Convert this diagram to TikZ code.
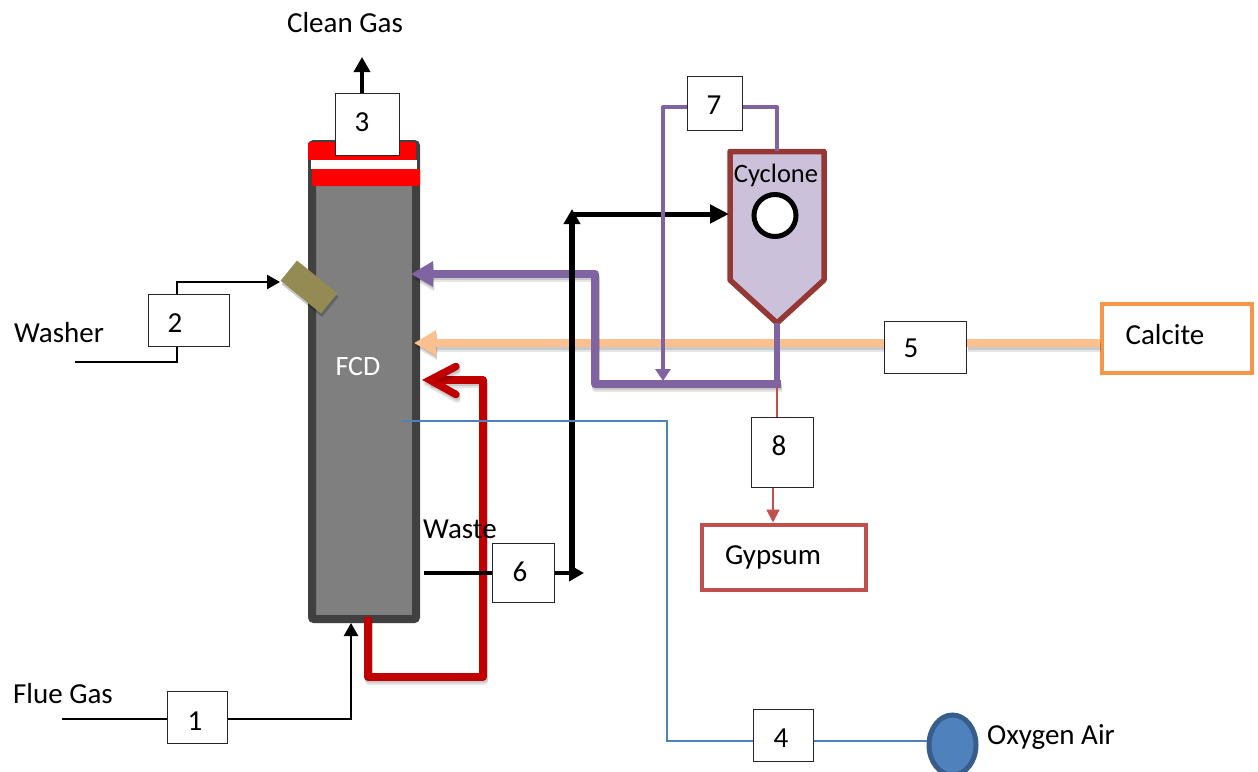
\documentclass[tikz,border=0pt]{standalone}
\usepackage{fontspec}
\setmainfont{Carlito}
\usetikzlibrary{arrows.meta,shadows,positioning,calc,shapes.geometric}
\definecolor{colborder}{HTML}{404040}
\definecolor{colgray}{HTML}{7F7F7F}
\definecolor{cololive}{HTML}{948A54}
\definecolor{colpurple}{HTML}{8064A2}
\definecolor{colorange}{HTML}{FAC090}
\definecolor{coldred}{HTML}{C00000}
\definecolor{colcyc}{HTML}{953735}
\definecolor{colcycf}{HTML}{CCC1DA}
\definecolor{colrose}{HTML}{C0504D}
\definecolor{colcalc}{HTML}{F79646}
\definecolor{colblue}{HTML}{4F81BD}
\definecolor{colblued}{HTML}{385D8A}
\newcommand{\softpath}[2]{%
  \draw[#1,draw=black,opacity=.10,transform canvas={xshift=1pt,yshift=-4.5pt}] #2;
  \draw[#1,draw=black,opacity=.12,transform canvas={xshift=1pt,yshift=-2.5pt}] #2;
  \draw[#1] #2;}
\tikzset{
  x=1pt,y=-1pt,
  softshadow/.style={drop shadow={opacity=.25,shadow xshift=1pt,shadow yshift=-4pt}},
  numbox/.style={draw=black!85,line width=1pt,fill=white,inner sep=0pt,anchor=north west},
  txt/.style={font=\fontsize{29}{32}\selectfont,inner sep=0pt,text=black},
  num/.style={font=\fontsize{29}{32}\selectfont,inner sep=0pt,text=black},
  blackthin/.style={draw=black,line width=2.5pt,-{Triangle[length=13pt,width=14pt]}},
  blackmid/.style={draw=black,line width=3.5pt,-{Triangle[length=15pt,width=16pt]}},
  plainblack/.style={draw=black,line width=2.5pt},
  purplethick/.style={draw=colpurple,line width=7.5pt,line join=round},
  purplethin/.style={draw=colpurple,line width=4pt,line join=round},
  orangeline/.style={draw=colorange,line width=8pt},
  redthick/.style={draw=coldred,line width=7.5pt,line join=round},
  rosethin/.style={draw=colrose,line width=2pt},
  bluethin/.style={draw=colblue,line width=1.7pt,line join=miter},
}
\begin{document}
\begin{tikzpicture}
\clip (0,0) rectangle (1258,771);
% column
\node[draw=colborder,line width=8pt,fill=colgray,rounded corners=2pt,minimum width=104pt,minimum height=475pt,inner sep=0pt,softshadow] (column) at (364,381.5) {};
\node[fill=red,rounded corners=2pt,minimum width=108pt,minimum height=18pt,inner sep=0pt] (redtop) at (362,151) {};
\node[fill=white,minimum width=106pt,minimum height=9pt,inner sep=0pt] (whitebar) at (364,164.5) {};
\node[fill=red,rounded corners=2pt,minimum width=108pt,minimum height=17pt,inner sep=0pt] (redlow) at (366,177.5) {};
\node[fill=black,opacity=.22,minimum width=52pt,minimum height=26pt,inner sep=0pt,rotate=-39] (platesh) at (310,290.5) {};
\node[fill=cololive,minimum width=52pt,minimum height=26pt,inner sep=0pt,rotate=-39] (washerplate) at (309,287) {};
\node[text=white,font=\fontsize{28}{30}\selectfont,inner sep=0pt] (fcd) at (358,367) {FCD};
% cyclone
\coordinate (cyclonetop) at (777,151);
\draw[draw=colcyc,fill=colcycf,line width=5.5pt,line join=round] (730,151.5) -- (824,151.5) -- (824,280) -- (777,323) -- (730,280) -- cycle;
\coordinate (cyclonetip) at (777,323);
\coordinate (cycloneleft) at (729,214);
\node[txt,font=\fontsize{26.5}{30}\selectfont] (cyclonetxt) at (776,175) {Cyclone};
\node[circle,draw=black,line width=5pt,fill=white,minimum size=42pt,inner sep=0pt] (eye) at (775,215.5) {};
% end boxes
\node[draw=colcalc,line width=4pt,fill=white,minimum width=150pt,minimum height=69pt,inner sep=0pt] (calcite) at (1177,338.5) {};
\node[txt] at (1165,335) {Calcite};
\node[draw=colrose,line width=4pt,fill=white,minimum width=164pt,minimum height=65pt,inner sep=0pt] (gypsum) at (784,557) {};
\node[txt] at (773,557) {Gypsum};
\node[ellipse,draw=colblued,line width=5pt,fill=colblue,minimum width=47pt,minimum height=60pt,inner sep=0pt] (oxygen) at (952.5,745) {};
% free ends
\coordinate (washerin) at (75,362);
\coordinate (fluein) at (62,719);
\coordinate (wasteout) at (424,573);
\coordinate (cleanout) at (362,57);
\coordinate (purplejoin) at (781,384);
\coordinate (blackjoin) at (572,573);
\coordinate (blacktop) at (572,209);
\coordinate (blackcorner) at (572,214);
\coordinate (bluestart) at (402,421);
\coordinate (redstart) at (368,617);
% number boxes
\node[numbox,minimum width=60pt,minimum height=52pt] (b1) at (167,691) {};
\node[numbox,minimum width=81pt,minimum height=52pt] (b2) at (148,294) {};
\node[numbox,minimum width=64pt,minimum height=62pt] (b3) at (335,93) {};
\node[numbox,minimum width=60pt,minimum height=52pt] (b4) at (753,709) {};
\node[numbox,minimum width=82pt,minimum height=52pt] (b5) at (884,321) {};
\node[numbox,minimum width=62pt,minimum height=59pt] (b6) at (492,543) {};
\node[numbox,minimum width=55pt,minimum height=54pt] (b7) at (687,76) {};
\node[numbox,minimum width=62pt,minimum height=70pt] (b8) at (751,417) {};
% connectors, bottom layer first
\softpath{redthick}{(redstart) -- (368,677) -- (483,677) -- (483,380) -- (430,380)}
\softpath{redthick,line cap=round,line join=miter}{(456,366.5) -- (430,380) -- (456,394.5)}
\softpath{orangeline}{(calcite.west |- 0,343) -- (b5.east |- 0,343)}
\softpath{orangeline,-{Triangle[length=22pt,width=24pt]}}{(b5.west |- 0,343) -- (414,343)}
\softpath{purplethick,-{Triangle[length=22pt,width=24pt]}}{(purplejoin) -- (595,384) -- (595,274) -- (411,274)}
\draw[draw=colpurple,line width=6pt] (cyclonetip) -- (purplejoin -| cyclonetip);
\draw[draw=black,line width=5.5pt,-{Triangle[length=15pt,width=16pt]}] (blackjoin) -- (blacktop);
\draw[draw=black,line width=5pt,-{Triangle[length=19pt,width=18pt]}] (blackcorner) -- (cycloneleft);
\draw[purplethin] (cyclonetop) -- (777,107) -- (b7.east |- 0,107);
\draw[purplethin,-{Triangle[length=12pt,width=15pt]}] (b7.west |- 0,107) -- (663,107) -- (663,381);
\draw[bluethin] (bluestart) -- (667,421) -- (667,741) -- (b4.west |- 0,741);
\draw[bluethin] (b4.east |- 0,741) -- (oxygen.west |- 0,741);
\draw[plainblack] (washerin) -- (177,362) -- (b2.south -| 177,0);
\draw[blackthin] (b2.north -| 177,0) -- (177,282) -- (280,282);
\draw[plainblack] (fluein) -- (b1.west |- 0,719);
\draw[blackthin] (b1.east |- 0,719) -- (351,719) -- (351,623);
\draw[blackmid] (b3.north -| 362,0) -- (cleanout);
\draw[draw=black,line width=3.5pt] (wasteout) -- (b6.west |- 0,573);
\draw[blackmid] (b6.east |- 0,573) -- (584,573);
\draw[rosethin] (777,387) -- (b8.north -| 777,0);
\draw[rosethin,-{Triangle[length=13pt,width=13pt]}] (b8.south -| 773,0) -- (gypsum.north -| 773,0);
% labels
\node[num] at (195,721) {1};
\node[num] at (175,323) {2};
\node[num] at (362,122) {3};
\node[num] at (781,738) {4};
\node[num] at (911,348) {5};
\node[num] at (520,572) {6};
\node[num] at (714,105) {7};
\node[num] at (779,446) {8};
\node[txt] at (345,23) {Clean Gas};
\node[txt] at (59,333) {Washer};
\node[txt] at (63,694) {Flue Gas};
\node[txt] at (460,529) {Waste};
\node[txt] at (1051,737) {Oxygen Air};
\end{tikzpicture}
\end{document}
